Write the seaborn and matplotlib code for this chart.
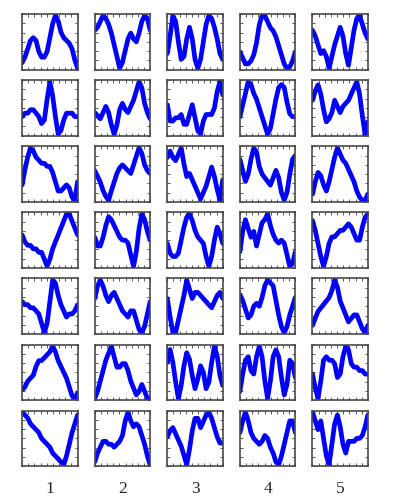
import numpy as np
import matplotlib
matplotlib.use("Agg")
import matplotlib.pyplot as plt
import seaborn as sns

# sample index along each trace (0..20) and trace heights
x = list(range(21))

r1c1 = [1.5, 2.5, 4, 5.5, 6, 5.5, 3.5, 2.5, 2.5, 3.5, 6, 8.5, 10, 9, 7, 6, 5.5, 5, 4, 2, 0.5]
r1c2 = [7, 7.5, 8.5, 9.5, 9, 8, 6.5, 4.5, 2.5, 0.5, 1.5, 3.5, 5.5, 6.5, 5.5, 5, 6.5, 8.5, 9.5, 9, 7]
r1c3 = [3, 6, 9.5, 8.5, 5, 2, 2.5, 5.5, 7.5, 5.5, 2, 0.5, 2, 5, 8, 9.5, 9, 7.5, 5.5, 3, 2]
r1c4 = [3.5, 2.5, 1.5, 1.5, 2, 3, 5, 8, 9.5, 9.5, 8.5, 7.5, 7, 6, 4.5, 3, 1.5, 0.8, 1, 2, 3.5]
r1c5 = [7, 6, 4.5, 3, 3.5, 2.5, 0.5, 2.5, 4.5, 6, 7.5, 6, 3, 1, 4, 7, 9, 9.5, 8, 6.5, 5.5]

r2c1 = [4.5, 5, 5, 5.5, 5.5, 5, 4.5, 3.5, 4, 7, 9.5, 7.5, 4.5, 2, 2.5, 4, 5, 5, 5, 4.5, 4.5]
r2c2 = [4.5, 4, 3.5, 4.5, 5.5, 4.5, 2.5, 1, 2.5, 5, 6, 5, 4.5, 5.5, 6.5, 8, 9.5, 8.5, 6, 4.5, 3.5]
r2c3 = [6, 3.5, 3.5, 4, 4, 4.5, 3, 3, 4.5, 6, 4, 2, 1.5, 3.5, 4.5, 4.5, 4.5, 5.5, 8, 9.5, 7.5]
r2c4 = [3.5, 5.5, 7.5, 9.5, 9, 7.5, 6.5, 5, 3.5, 2, 0.5, 1.5, 4, 6.5, 8.5, 9, 8.5, 6, 4, 3.5, 3.5]
r2c5 = [6.5, 8, 9, 7.5, 5, 3, 3.5, 4.5, 6.5, 5.5, 4.5, 5.5, 6, 6.5, 7.5, 8.5, 9.5, 7.5, 4, 1, 3]

r3c1 = [3.5, 6, 8, 9.5, 9, 8, 7.5, 7, 7, 6.5, 6.5, 5.5, 4, 2.5, 2.5, 3, 3.5, 3, 1.5, 1, 4]
r3c2 = [5.5, 4.5, 3.5, 2, 1, 0.3, 2, 3.5, 5, 6, 6.5, 6, 5.5, 5, 6.5, 8, 9.5, 8.5, 6.5, 5.5, 5]
r3c3 = [7, 8, 7, 6.5, 7.5, 8.5, 6, 4, 4.5, 3.5, 2.5, 1.5, 0.5, 1.5, 2.5, 4, 5.5, 4, 2, 0.3, 3.5]
r3c4 = [7, 5.5, 4, 5, 7, 8.5, 8, 6, 5, 4.5, 4, 3.5, 4.5, 5.5, 4.5, 2.5, 1.5, 2.5, 5, 7, 7.5]
r3c5 = [2, 4, 5.5, 5, 3.5, 2.5, 4, 6, 8, 9.5, 8.5, 7.5, 7, 6, 5, 4, 2.5, 1.5, 1, 1, 2]

r4c1 = [5.5, 4.5, 4, 4, 3.5, 3.5, 3, 3, 2, 1, 2, 3.5, 4.5, 5.5, 6.5, 7.5, 8.5, 8.5, 7.5, 6.5, 5.5]
r4c2 = [5.5, 4, 4, 5.5, 7.5, 9, 8.5, 7.5, 6.5, 5.5, 5, 5, 4.5, 2.5, 0.5, 3, 7, 9.5, 8.5, 6.5, 5]
r4c3 = [4.5, 3, 2.5, 2.5, 3, 5, 7, 8.5, 9, 8, 6.5, 5.5, 5, 4.5, 2.5, 1, 2.5, 5, 7, 6, 4.5]
r4c4 = [3, 6.5, 8.5, 7, 5.5, 6.5, 4, 6, 8, 8.5, 9.5, 7.5, 6, 5, 4.5, 5, 4.5, 2.5, 0.5, 1, 3]
r4c5 = [8, 6.5, 4.5, 2.5, 1, 2.5, 4.5, 5.5, 5.5, 6, 6.5, 6.5, 7, 7.5, 7, 6, 5, 5, 7, 8.5, 9]

r5c1 = [6, 5.5, 5.5, 5, 5, 4.5, 4, 2.5, 1, 2.5, 6, 9.5, 9, 7, 5.5, 4.5, 3.5, 4, 4, 4.5, 5.5]
r5c2 = [6, 8, 9, 8, 6.5, 5.5, 6.5, 7, 6, 5, 4, 3.5, 3, 4, 4, 2.5, 1, 0.5, 1.5, 3.5, 5.5]
r5c3 = [6.5, 3.5, 1, 1, 3, 5, 7, 9.5, 8, 6.5, 7.5, 7.5, 7, 6.5, 6, 5.5, 5, 6, 7, 7.5, 6.5]
r5c4 = [7, 6, 4.5, 3, 3.5, 5, 5.5, 5, 6.5, 8.5, 9.5, 9, 8.5, 6, 3.5, 1.5, 0.5, 1.5, 3.5, 5, 6.5]
r5c5 = [2.5, 3.5, 4.5, 5, 5.5, 6, 6.5, 7.5, 9, 8, 6, 5, 4, 3, 3.5, 4, 4, 3, 2, 1.5, 2.5]

r6c1 = [2, 2.5, 3.5, 4, 4.5, 6, 7, 7, 7.5, 8, 8.5, 9.5, 8.5, 7, 6, 5, 4, 2.5, 1, 0.5, 1.5]
r6c2 = [2, 3, 4.5, 6, 7.5, 8.5, 9.5, 8, 6.5, 6.5, 7, 7, 6, 4.5, 3.5, 2.5, 3, 4, 3, 2, 2]
r6c3 = [7, 9, 7, 4, 1.5, 3.5, 6.5, 8.5, 7.5, 5, 3, 4.5, 6.5, 5.5, 3, 4, 7, 9.5, 8, 5, 3.5]
r6c4 = [2, 4.5, 6.5, 7, 5, 4.5, 7, 8.5, 7, 3.5, 1, 3.5, 7, 8, 7, 4, 1.5, 3, 6.5, 6, 4]
r6c5 = [4.5, 2.5, 1, 3.5, 6.5, 7, 6.5, 6.5, 6, 4, 4.5, 7, 8.5, 8, 6, 5.5, 5.5, 5, 5, 4.5, 4.5]

r7c1 = [9.5, 9, 8.5, 7.5, 7, 6.5, 6, 5, 4.5, 4, 3.5, 2.5, 2, 1.5, 1, 0.5, 2, 4, 6, 7.5, 9]
r7c2 = [1, 2.5, 3.5, 4.5, 4.5, 4, 4, 3.5, 4, 4.5, 5.5, 8, 9.5, 8, 7, 7.5, 7, 5.5, 4, 2, 0.5]
r7c3 = [5, 6, 6.5, 5.5, 4.5, 3.5, 2, 0.5, 3, 6, 8, 8, 6.5, 7.5, 8.5, 9, 8, 6.5, 5, 4, 4]
r7c4 = [6, 8, 9.5, 8, 6, 5, 4.5, 4, 4.5, 5.5, 5, 3.5, 2.5, 1, 0.5, 2, 4, 6, 8, 8, 6]
r7c5 = [9.5, 8, 6.5, 8, 5, 2, 0.5, 4, 7.5, 9, 7, 4, 2.5, 4.5, 4.5, 4.5, 5, 5, 5.5, 7, 9]

grid = [
    [r1c1, r1c2, r1c3, r1c4, r1c5],
    [r2c1, r2c2, r2c3, r2c4, r2c5],
    [r3c1, r3c2, r3c3, r3c4, r3c5],
    [r4c1, r4c2, r4c3, r4c4, r4c5],
    [r5c1, r5c2, r5c3, r5c4, r5c5],
    [r6c1, r6c2, r6c3, r6c4, r6c5],
    [r7c1, r7c2, r7c3, r7c4, r7c5],
]
col_labels = ["1", "2", "3", "4", "5"]

sns.set_style("white")
plt.rcParams["font.family"] = ["Liberation Serif", "DejaVu Serif"]

fig, axes = plt.subplots(7, 5, figsize=(3.96, 5.04), dpi=100)
fig.subplots_adjust(left=0.056, right=0.929, top=0.972, bottom=0.075,
                    wspace=0.31, hspace=0.19)

for i, row in enumerate(grid):
    for j, vals in enumerate(row):
        ax = axes[i, j]
        sns.lineplot(x=x, y=vals, ax=ax, color="#0000ff", linewidth=3.4,
                     solid_joinstyle="round", solid_capstyle="round")
        lo, hi = min(vals), max(vals)
        ax.set_xlim(0, 20)
        ax.set_ylim(lo - 0.25, hi + 0.25)
        ax.set_xticks(np.linspace(0, 20, 10))
        ax.set_yticks(np.linspace(lo - 0.25, hi + 0.25, 7))
        ax.tick_params(direction="in", length=2.5, width=0.7, color="#555555",
                       top=True, right=True, bottom=True, left=True,
                       labelbottom=False, labelleft=False)
        for s in ax.spines.values():
            s.set_color("#4a4a4a")
            s.set_linewidth(1.2)
        ax.set_xlabel("")
        ax.set_ylabel("")
        if i == 6:
            ax.set_xlabel(col_labels[j], fontsize=12.5, labelpad=11)

fig.savefig("out.png", dpi=100, facecolor="white")
